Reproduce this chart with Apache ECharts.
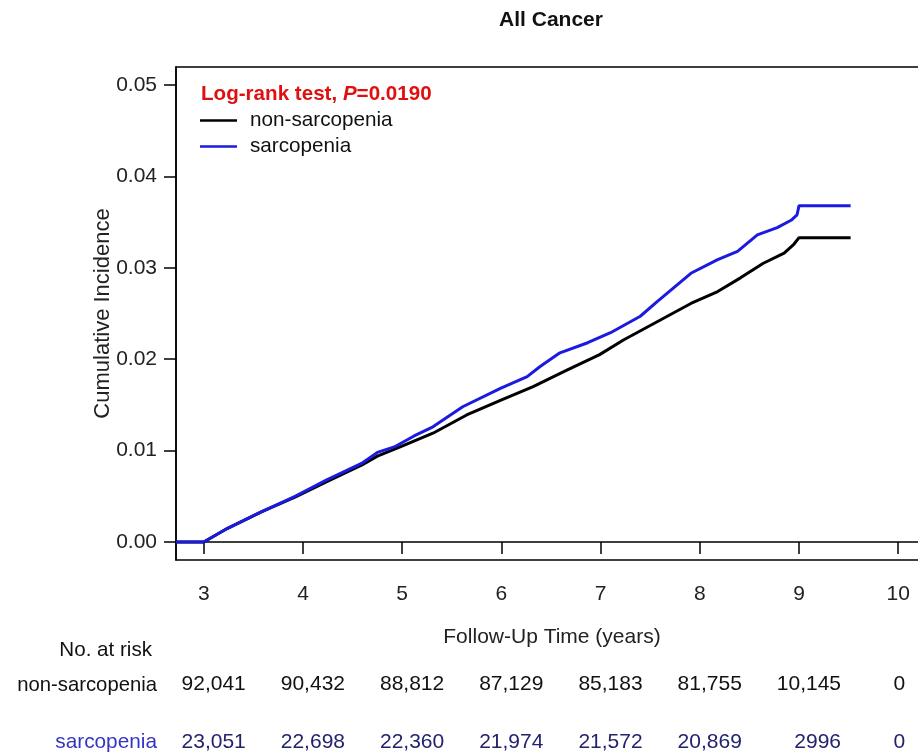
<!DOCTYPE html>
<html>
<head>
<meta charset="utf-8">
<script src="https://cdn.jsdelivr.net/npm/echarts@6/dist/echarts.min.js"></script>
<style>
html,body{margin:0;padding:0;background:#fff;}
#chart{width:918px;height:755px;}
</style>
</head>
<body>
<div id="chart"></div>
<script>
// ---- data ----
var seriesNames = ['non-sarcopenia', 'sarcopenia'];
var nonSarcopenia = [
  [2.72,0],[3.0,0],[3.24,0.0015],[3.58,0.0033],[3.92,0.0049],[4.24,0.0066],[4.59,0.0084],
  [4.75,0.0094],[4.98,0.0104],[5.31,0.0119],[5.65,0.0139],[5.99,0.0155],[6.32,0.0170],
  [6.66,0.0188],[6.99,0.0205],[7.23,0.0221],[7.57,0.0241],[7.91,0.0261],[8.18,0.0274],
  [8.41,0.0289],[8.64,0.0305],[8.85,0.0316],[8.95,0.0326],[9.0,0.0333],[9.52,0.0333]
];
var sarcopenia = [
  [2.72,0],[3.0,0],[3.24,0.0015],[3.58,0.0033],[3.92,0.0050],[4.24,0.0068],[4.59,0.0086],
  [4.75,0.0098],[4.92,0.0104],[5.12,0.0116],[5.31,0.0126],[5.61,0.0148],[5.99,0.0168],
  [6.26,0.0181],[6.39,0.0192],[6.59,0.0207],[6.87,0.0218],[7.10,0.0229],[7.40,0.0247],
  [7.57,0.0263],[7.91,0.0294],[8.18,0.0309],[8.38,0.0318],[8.58,0.0336],[8.78,0.0344],
  [8.92,0.0352],[8.98,0.0358],[9.0,0.0368],[9.52,0.0368]
];
var xTicks = [3,4,5,6,7,8,9,10];
var yTicks = [0,0.01,0.02,0.03,0.04,0.05];
var riskTimes = [3,4,5,6,7,8,9,10];
var riskNonSarcopenia = ['92,041','90,432','88,812','87,129','85,183','81,755','10,145','0'];
var riskSarcopenia = ['23,051','22,698','22,360','21,974','21,572','20,869','2996','0'];
var titleText = 'All Cancer';
var xName = 'Follow-Up Time (years)';
var yName = 'Cumulative Incidence';

// ---- styles ----
var FONT = '"Liberation Sans", Arial, Helvetica, sans-serif';
var BLUE_LINE = '#1a1ae0';
var BLUE_LABEL = '#3535c4';
var BLUE_NUM = '#22226e';

function riskData(arr, row) {
  return riskTimes.map(function (t, i) {
    var last = (i === riskTimes.length - 1);
    return {
      value: [t, row],
      label: { formatter: arr[i], align: last ? 'center' : 'right', offset: [last ? 1 : 42, 0] }
    };
  });
}

var chart = echarts.init(document.getElementById('chart'), null, { renderer: 'canvas' });
var option = {
  backgroundColor: '#fff',
  animation: false,
  textStyle: { fontFamily: FONT },
  grid: [
    { left: 176, width: 752, top: 67, height: 493, show: true, borderColor: '#000', borderWidth: 1.5,
      backgroundColor: 'transparent', outerBoundsMode: 'none', containLabel: false },
    { left: 176, width: 752, top: 684, height: 58, outerBoundsMode: 'none', containLabel: false }
  ],
  xAxis: [
    {
      type: 'value', gridIndex: 0, min: 2.72, max: 10.3,
      name: xName, nameLocation: 'middle', nameGap: 67, nameMoveOverlap: false,
      nameTextStyle: { fontSize: 21, color: '#222', fontFamily: FONT },
      axisLine: { show: true, lineStyle: { color: '#000', width: 1.5 } },
      axisTick: { show: true, inside: false, length: 12, customValues: xTicks, lineStyle: { color: '#000', width: 1.5 } },
      axisLabel: { show: true, customValues: xTicks, margin: 24, fontSize: 21, color: '#222', fontFamily: FONT },
      splitLine: { show: false }
    },
    {
      type: 'value', gridIndex: 1, min: 2.72, max: 10.3, show: false
    }
  ],
  yAxis: [
    {
      type: 'value', gridIndex: 0, min: -0.00197, max: 0.05197,
      name: yName, nameLocation: 'middle', nameGap: 62, nameMoveOverlap: false,
      nameTextStyle: { fontSize: 22, color: '#222', fontFamily: FONT },
      axisLine: { show: true, lineStyle: { color: '#000', width: 1.5 } },
      axisTick: { show: true, inside: false, length: 12, customValues: yTicks, lineStyle: { color: '#000', width: 1.5 } },
      axisLabel: { show: true, customValues: yTicks, margin: 19, fontSize: 21, color: '#222', fontFamily: FONT,
        formatter: function (v) { return v.toFixed(2); } },
      splitLine: { show: false }
    },
    {
      type: 'category', gridIndex: 1, data: ['sarcopenia', 'non-sarcopenia'], boundaryGap: false, show: false
    }
  ],
  legend: {
    orient: 'vertical', left: 195, top: 105, itemGap: 5,
    itemWidth: 37, itemHeight: 2.5, icon: 'rect',
    data: seriesNames,
    textStyle: { fontSize: 20.7, color: '#111', fontFamily: FONT, padding: [0, 0, 0, 8] },
    selectedMode: false
  },
  series: [
    {
      name: seriesNames[0], type: 'line', xAxisIndex: 0, yAxisIndex: 0,
      data: nonSarcopenia, symbol: 'none', smooth: false,
      lineStyle: { color: '#000', width: 3 }, itemStyle: { color: '#000' }, z: 2
    },
    {
      name: seriesNames[1], type: 'line', xAxisIndex: 0, yAxisIndex: 0,
      data: sarcopenia, symbol: 'none', smooth: false,
      lineStyle: { color: BLUE_LINE, width: 3 }, itemStyle: { color: BLUE_LINE }, z: 3
    },
    {
      type: 'scatter', xAxisIndex: 1, yAxisIndex: 1, symbolSize: 0, silent: true,
      itemStyle: { color: 'transparent', opacity: 1 },
      data: riskData(riskNonSarcopenia, 'non-sarcopenia'),
      label: { show: true, position: 'inside', fontSize: 21, color: '#111', fontFamily: FONT, opacity: 1,
        textBorderWidth: 0, textBorderColor: 'transparent' }
    },
    {
      type: 'scatter', xAxisIndex: 1, yAxisIndex: 1, symbolSize: 0, silent: true,
      itemStyle: { color: 'transparent', opacity: 1 },
      data: riskData(riskSarcopenia, 'sarcopenia'),
      label: { show: true, position: 'inside', fontSize: 21, color: BLUE_NUM, fontFamily: FONT, opacity: 1,
        textBorderWidth: 0, textBorderColor: 'transparent' }
    }
  ],
  graphic: [
    { type: 'text', x: 551, y: 20, style: { text: titleText, font: 'bold 21px ' + FONT, fill: '#111',
      align: 'center', verticalAlign: 'middle', textAlign: 'center', textVerticalAlign: 'middle' } },
    { type: 'text', x: 201, y: 94, style: {
      text: '{a|Log-rank test, }{b|P}{a|=0.0190}',
      rich: {
        a: { fontFamily: FONT, fontSize: 20.6, fontWeight: 'bold', fill: '#e01010', color: '#e01010' },
        b: { fontFamily: FONT, fontSize: 20.6, fontWeight: 'bold', fontStyle: 'italic', fill: '#e01010', color: '#e01010' }
      },
      align: 'left', verticalAlign: 'middle', textAlign: 'left', textVerticalAlign: 'middle' } },
    { type: 'text', x: 152, y: 650, style: { text: 'No. at risk', font: '20.6px ' + FONT, fill: '#111',
      align: 'right', verticalAlign: 'middle', textAlign: 'right', textVerticalAlign: 'middle' } },
    { type: 'text', x: 157, y: 685, style: { text: seriesNames[0], font: '20.3px ' + FONT, fill: '#111',
      align: 'right', verticalAlign: 'middle', textAlign: 'right', textVerticalAlign: 'middle' } },
    { type: 'text', x: 157, y: 742, style: { text: seriesNames[1], font: '20.8px ' + FONT, fill: BLUE_LABEL,
      align: 'right', verticalAlign: 'middle', textAlign: 'right', textVerticalAlign: 'middle' } }
  ]
};
chart.setOption(option);
</script>
</body>
</html>
